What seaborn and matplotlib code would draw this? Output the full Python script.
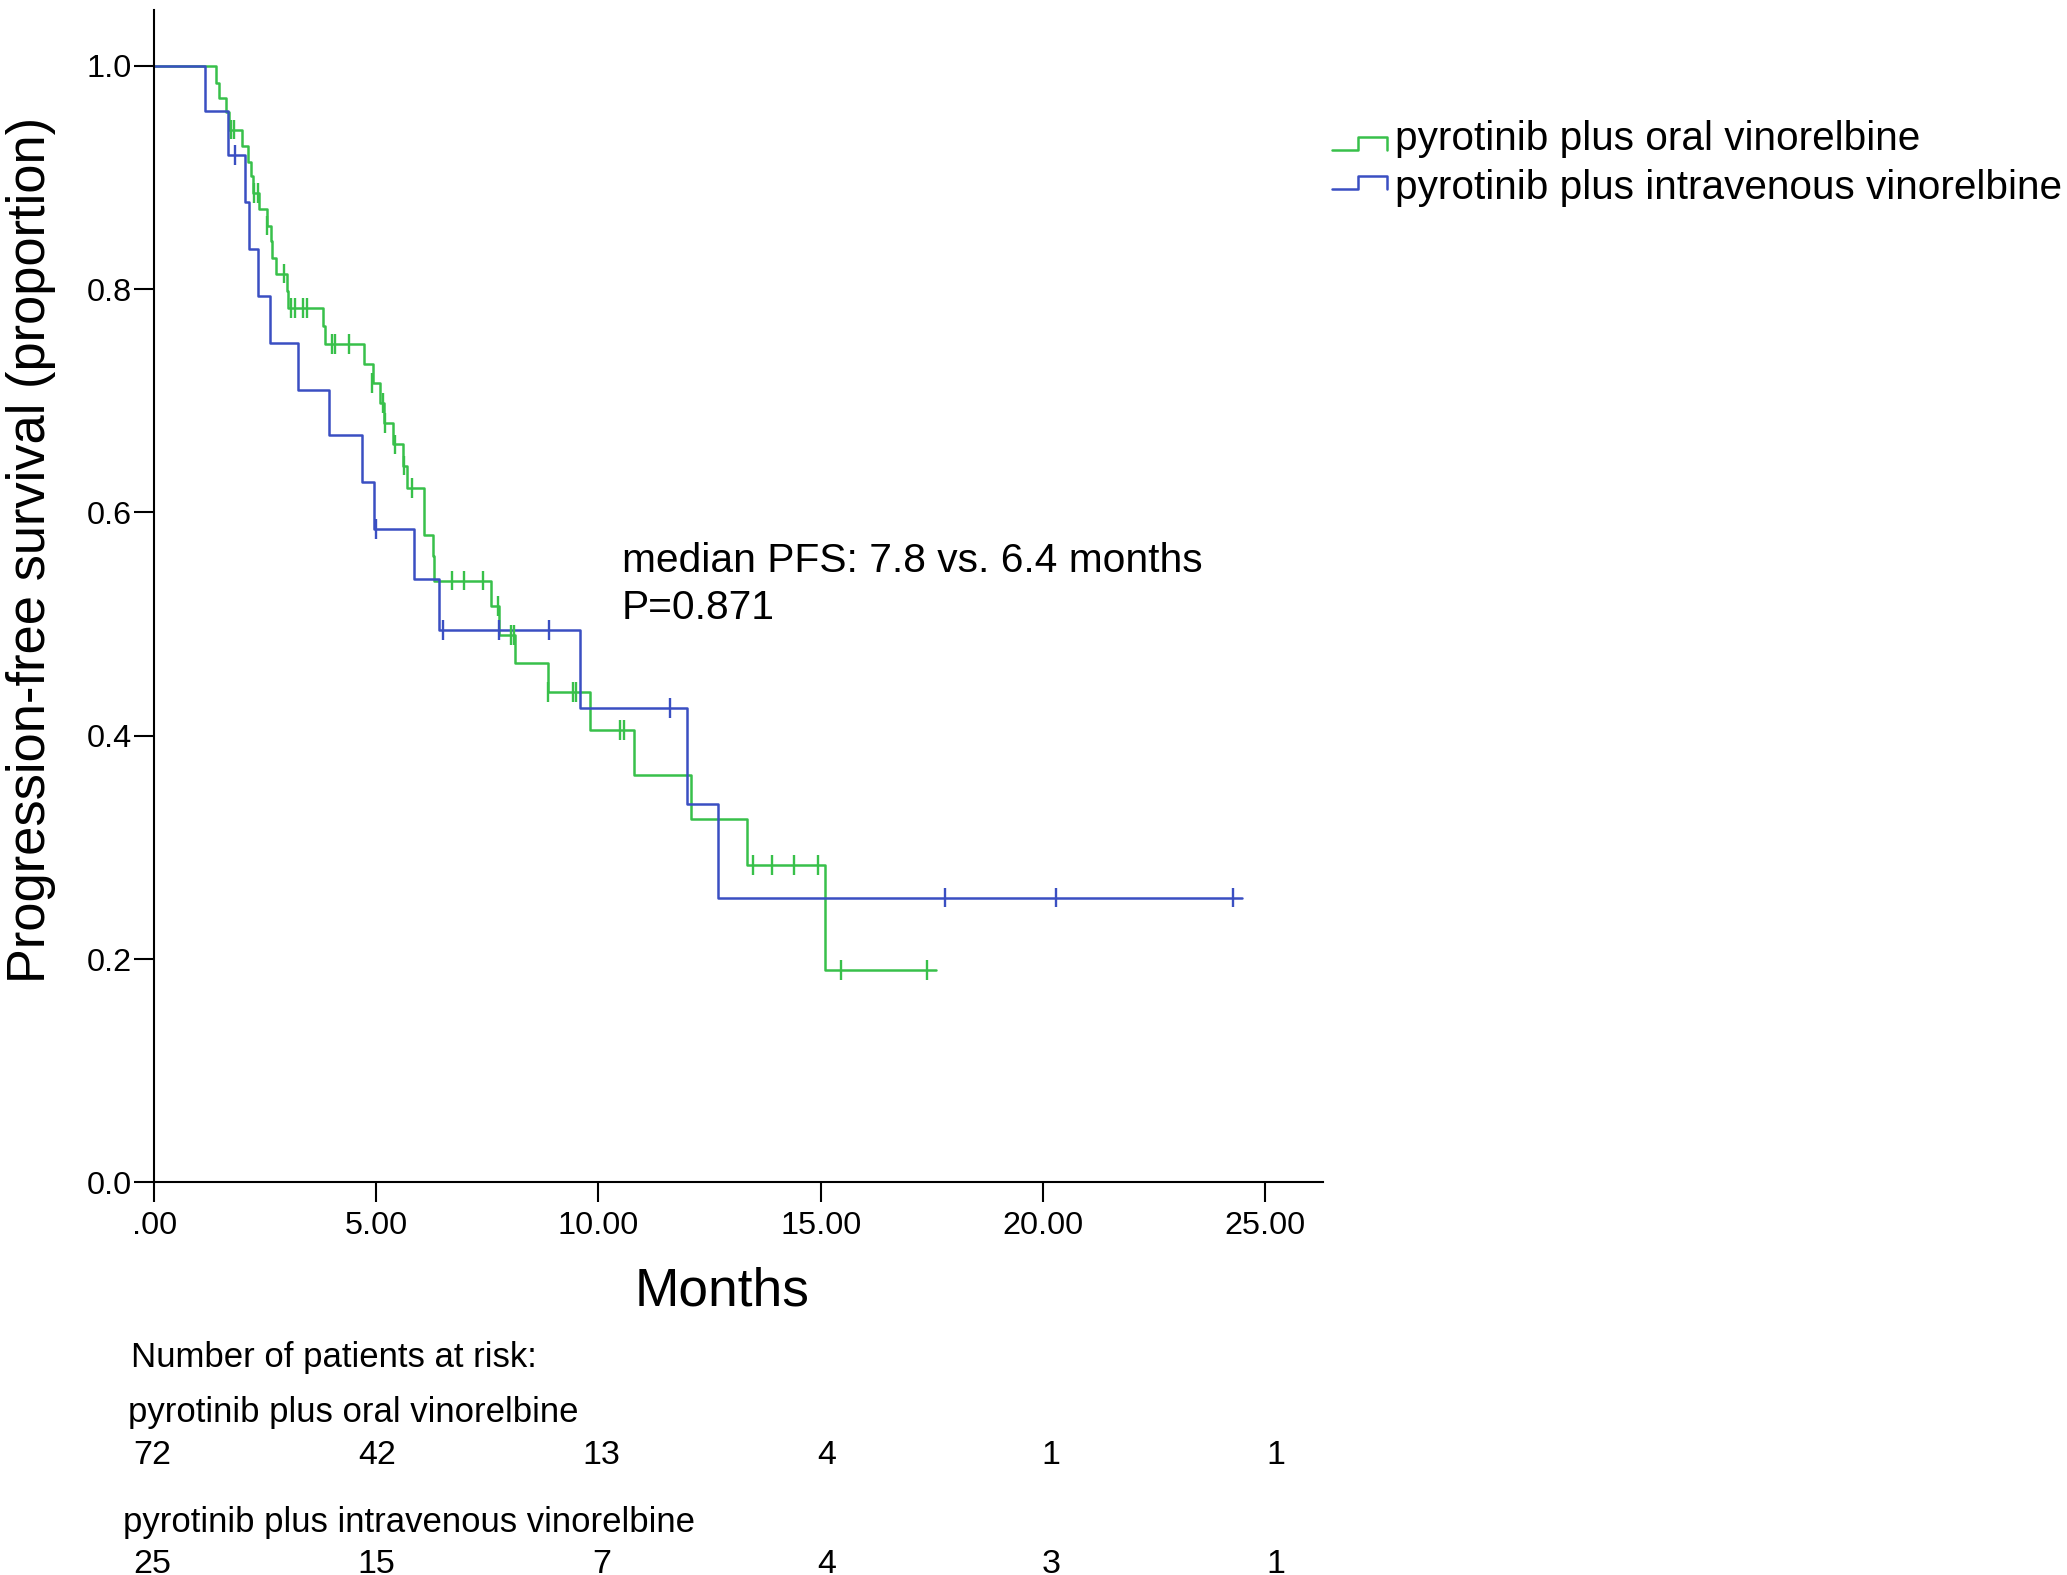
import numpy as np
import pandas as pd
import matplotlib
matplotlib.use("Agg")
import matplotlib.pyplot as plt
from matplotlib.lines import Line2D
import matplotlib.transforms as mtransforms
import seaborn as sns

# ---------------- data ----------------
group_names = ["pyrotinib plus oral vinorelbine",
               "pyrotinib plus intravenous vinorelbine"]

# oral vinorelbine: step times (months) and survival after each step
oral_times = [0.0, 1.39, 1.45, 1.62, 1.69, 1.98, 2.12, 2.18, 2.22, 2.36, 2.53,
              2.63, 2.66, 2.74, 2.98, 3.02, 3.81, 3.85, 4.72, 4.92, 5.08, 5.17,
              5.38, 5.59, 5.68, 6.08, 6.27, 6.30, 7.58, 7.77, 8.12, 8.87, 9.82,
              10.80, 12.08, 13.35, 15.10]
oral_surv = [1.0, 0.985, 0.971, 0.959, 0.943, 0.928, 0.914, 0.901, 0.886, 0.872,
             0.857, 0.843, 0.828, 0.814, 0.798, 0.783, 0.767, 0.751, 0.733, 0.716,
             0.698, 0.680, 0.661, 0.642, 0.622, 0.580, 0.561, 0.539, 0.516, 0.490,
             0.465, 0.439, 0.405, 0.365, 0.325, 0.284, 0.190]
oral_end = 17.59
oral_cens_t = [1.72, 1.80, 2.25, 2.33, 2.54, 2.92, 3.08, 3.18, 3.35, 3.45, 4.00,
               4.06, 4.38, 4.90, 5.14, 5.20, 5.43, 5.62, 5.81, 6.70, 6.98, 7.39,
               7.73, 8.02, 8.09, 8.86, 9.43, 9.49, 10.49, 10.57, 13.47, 13.91,
               14.39, 14.93, 15.45, 17.39]
oral_cens_s = [0.943, 0.943, 0.886, 0.886, 0.857, 0.814, 0.783, 0.783, 0.783,
               0.783, 0.751, 0.751, 0.751, 0.716, 0.698, 0.680, 0.661, 0.642,
               0.622, 0.539, 0.539, 0.539, 0.516, 0.490, 0.490, 0.439, 0.439,
               0.439, 0.405, 0.405, 0.284, 0.284, 0.284, 0.284, 0.190, 0.190]

# intravenous vinorelbine
iv_times = [0.0, 1.14, 1.67, 2.04, 2.14, 2.34, 2.60, 3.24, 3.94, 4.67, 4.94,
            5.85, 6.41, 9.59, 12.00, 12.68]
iv_surv = [1.0, 0.960, 0.920, 0.878, 0.836, 0.794, 0.752, 0.710, 0.669, 0.627,
           0.585, 0.540, 0.495, 0.425, 0.339, 0.255]
iv_end = 24.48
iv_cens_t = [1.82, 4.99, 6.49, 7.77, 8.89, 11.60, 17.80, 20.30, 24.28]
iv_cens_s = [0.920, 0.585, 0.495, 0.495, 0.495, 0.425, 0.255, 0.255, 0.255]

x_ticks = [0, 5, 10, 15, 20, 25]
x_tick_labels = [".00", "5.00", "10.00", "15.00", "20.00", "25.00"]
y_ticks = [0.0, 0.2, 0.4, 0.6, 0.8, 1.0]
y_tick_labels = ["0.0", "0.2", "0.4", "0.6", "0.8", "1.0"]

risk_times = [0, 5, 10, 15, 20, 25]
oral_at_risk = [72, 42, 13, 4, 1, 1]
iv_at_risk = [25, 15, 7, 4, 3, 1]

annot_lines = ["median PFS: 7.8 vs. 6.4 months", "P=0.871"]

colors = {group_names[0]: "#38c04a", group_names[1]: "#3a4fc2"}

# ---------------- build tables ----------------
steps = pd.concat([
    pd.DataFrame({"time": oral_times + [oral_end], "surv": oral_surv + [oral_surv[-1]],
                  "group": group_names[0]}),
    pd.DataFrame({"time": iv_times + [iv_end], "surv": iv_surv + [iv_surv[-1]],
                  "group": group_names[1]}),
], ignore_index=True)
cens = pd.concat([
    pd.DataFrame({"time": oral_cens_t, "surv": oral_cens_s, "group": group_names[0]}),
    pd.DataFrame({"time": iv_cens_t, "surv": iv_cens_s, "group": group_names[1]}),
], ignore_index=True)

# ---------------- figure ----------------
sns.set_theme(style="white")
plt.rcParams["font.family"] = ["Liberation Sans", "DejaVu Sans"]
plt.rcParams["text.color"] = "black"
plt.rcParams["axes.labelcolor"] = "black"
plt.rcParams["xtick.color"] = "black"
plt.rcParams["ytick.color"] = "black"

W, H = 2067, 1575
fig = plt.figure(figsize=(W / 100, H / 100), dpi=100)
ax = fig.add_axes([154.2 / W, (H - 1182.3) / H, 1168.5 / W, 1172.2 / H])

sns.lineplot(data=steps, x="time", y="surv", hue="group", palette=colors,
             drawstyle="steps-post", estimator=None, sort=False, linewidth=1.8,
             legend=False, ax=ax)
sns.scatterplot(data=cens, x="time", y="surv", hue="group", palette=colors,
                marker="|", s=200, linewidth=1.7, legend=False, ax=ax, zorder=3)

ax.set_xlim(0, 26.3)
ax.set_ylim(0, 1.05)
ax.set_xticks(x_ticks)
ax.set_xticklabels(x_tick_labels)
ax.set_yticks(y_ticks)
ax.set_yticklabels(y_tick_labels)
ax.set_xlabel("")
ax.set_ylabel("")
for side in ["top", "right"]:
    ax.spines[side].set_visible(False)
for side in ["left", "bottom"]:
    ax.spines[side].set_color("black")
    ax.spines[side].set_linewidth(1.5)
ax.tick_params(axis="both", direction="out", length=14.4, width=1.5,
               colors="black", labelsize=23.3)
ax.tick_params(axis="x", pad=6.5, bottom=True)
ax.tick_params(axis="y", pad=1.5, left=True)

# axis titles
fig.text(31 / W, 1 - 550 / H, "Progression-free survival (proportion)",
         rotation=90, ha="center", va="center", fontsize=37.8)
fig.text(721.6 / W, 1 - 1305 / H, "Months", ha="center", va="baseline", fontsize=38.3)

# annotation
fig.text(622 / W, 1 - 572 / H, annot_lines[0], ha="left", va="baseline", fontsize=29.3)
fig.text(622 / W, 1 - 619 / H, annot_lines[1], ha="left", va="baseline", fontsize=29.3)

# legend (step-shaped handles)
for i, g in enumerate(group_names):
    low = 150 + i * 39
    high = 137 + i * 39
    xs = np.array([1332, 1358, 1358, 1387, 1387]) / W
    ys = 1 - np.array([low, low, high, high, low]) / H
    fig.add_artist(Line2D(xs, ys, color=colors[g], linewidth=1.8,
                          transform=fig.transFigure))
    fig.text(1395 / W, 1 - (150 + i * 49) / H, g, ha="left", va="baseline",
             fontsize=29.2)

# number at risk table
fig.text(131 / W, 1 - 1367 / H, "Number of patients at risk:", ha="left",
         va="baseline", fontsize=25)
fig.text(128 / W, 1 - 1421.7 / H, group_names[0], ha="left", va="baseline", fontsize=25)
fig.text(123 / W, 1 - 1531.7 / H, group_names[1], ha="left", va="baseline", fontsize=25)
blend = mtransforms.blended_transform_factory(ax.transData, fig.transFigure)
for t, n in zip(risk_times, oral_at_risk):
    ax.text(t * 1.012 - 0.05, 1 - 1464 / H, str(n), transform=blend, ha="center",
            va="baseline", fontsize=24.5, clip_on=False)
for t, n in zip(risk_times, iv_at_risk):
    ax.text(t * 1.012 - 0.05, 1 - 1573 / H, str(n), transform=blend, ha="center",
            va="baseline", fontsize=24.5, clip_on=False)

fig.savefig("out.png", dpi=100, facecolor="white")
